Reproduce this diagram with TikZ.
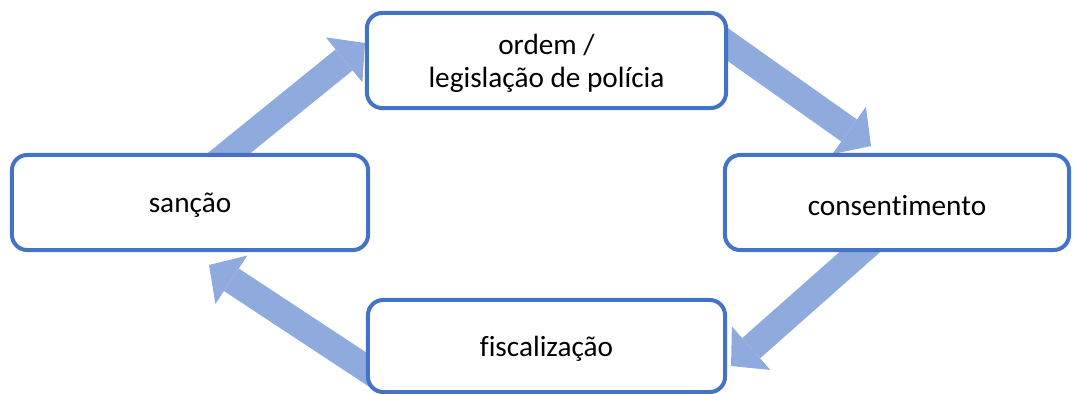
\documentclass[tikz,border=0pt]{standalone}
\usepackage{fontspec}
\setmainfont{Carlito}[Ligatures=NoCommon]
\usetikzlibrary{arrows.meta,calc,backgrounds}
\definecolor{borda}{HTML}{4472C4}
\definecolor{azulseta}{HTML}{8FAADC}
\newcommand\baixa[1]{\raisebox{-0.075cm}[\height][\depth]{#1}}

\begin{document}
\begin{tikzpicture}[x=0.025cm,y=-0.025cm,
  caixa/.style={draw=borda,line width=0.1cm,fill=white,rounded corners=0.38cm,
    minimum height=2.375cm,align=center,font=\fontsize{20.8}{23.5}\selectfont},
  seta/.style={draw=azulseta,line width=0.675cm,
    -{Triangle[width=1.45cm,length=0.67cm,line width=0pt]}}]
\useasboundingbox (0,0) rectangle (1073,394);
\node[caixa,minimum width=8.975cm] (ordem) at (546.5,60.5) {\baixa{ordem /}\\\baixa{legislação de polícia}};
\node[caixa,minimum width=8.9cm] (sancao) at (190,202.5) {\baixa{sanção}};
\node[caixa,minimum width=8.6cm] (consent) at (897,202.5) {\baixa{consentimento}};
\node[caixa,minimum width=8.925cm,minimum height=2.3cm] (fiscal) at (546.5,346) {\baixa{fiscalização}};
% setas do ciclo, por baixo das caixas
\begin{scope}[on background layer]
\draw[seta] ($(ordem.east)+(-18,-28.5)$) -- ($(consent.north)+(-26,-7)$);
\draw[seta] ($(consent.south)+(-18,-17)$) -- ($(fiscal.east)+(4,20)$);
\draw[seta] ($(fiscal.west)+(11.5,30)$) -- ($(sancao.south)+(19,13)$);
\draw[seta] ($(sancao.north)+(22,14)$) -- ($(ordem.west)+(0,-17.5)$);
\end{scope}
\end{tikzpicture}
\end{document}
